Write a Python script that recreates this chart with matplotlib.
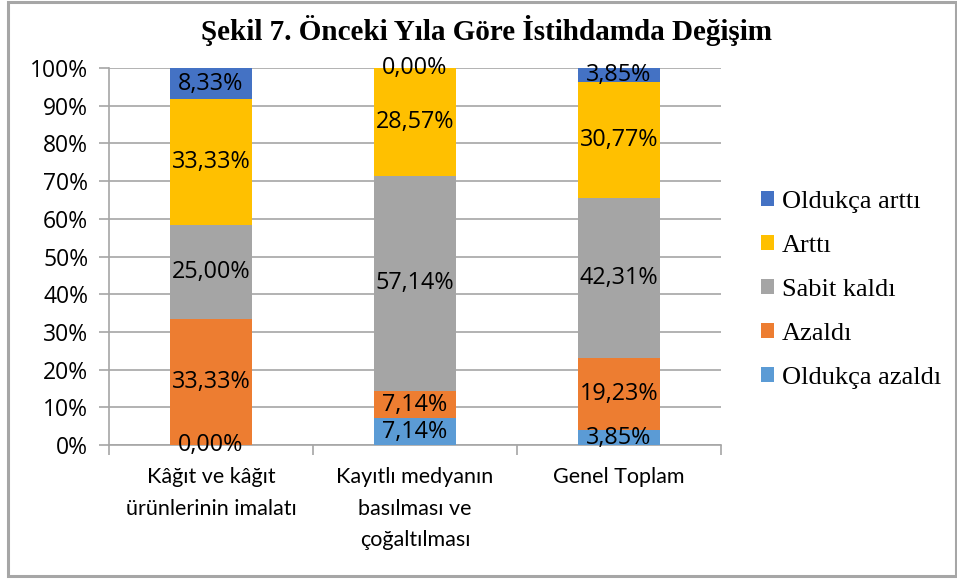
import matplotlib
matplotlib.use("Agg")
import matplotlib.pyplot as plt
from matplotlib.patches import Rectangle
import numpy as np

categories = ["Kâğıt ve kâğıt\nürünlerinin imalatı",
              "Kayıtlı medyanın\nbasılması ve\nçoğaltılması",
              "Genel Toplam"]
series_names = ["Oldukça azaldı", "Azaldı", "Sabit kaldı", "Arttı", "Oldukça arttı"]
oldukca_azaldi = [0.00, 7.14, 3.85]
azaldi = [33.33, 7.14, 19.23]
sabit_kaldi = [25.00, 57.14, 42.31]
artti = [33.33, 28.57, 30.77]
oldukca_artti = [8.33, 0.00, 3.85]
colors = ["#5B9BD5", "#ED7D31", "#A5A5A5", "#FFC000", "#4472C4"]
title = "Şekil 7. Önceki Yıla Göre İstihdamda Değişim"

W, H = 957, 579
fig = plt.figure(figsize=(W / 100, H / 100), dpi=100)
fig.patch.set_facecolor("white")

# outer chart frame
fig.patches.append(Rectangle((8 / W, 3 / H), 948 / W, 574 / H, transform=fig.transFigure,
                             fill=False, edgecolor="#A6A6A6", linewidth=2.2))

ax = fig.add_axes([109 / W, 1 - 445 / H, 612 / W, 377 / H])
x = np.arange(len(categories))
series = [oldukca_azaldi, azaldi, sabit_kaldi, artti, oldukca_artti]
bottom = np.zeros(len(categories))
label_font = "Open Sans"
cat_font = "Lato"
bars = []
for name, vals, col in zip(series_names, series, colors):
    v = np.array(vals)
    b = ax.bar(x, v, 0.4, bottom=bottom, color=col, label=name, zorder=3)
    bars.append(b)
    for xi, bi, vi in zip(x, bottom, v):
        ax.text(xi, bi + vi / 2, f"{vi:.2f}".replace(".", ",") + "%", ha="center",
                va="center", fontsize=16.8, family=label_font, color="black", zorder=4)
    bottom = bottom + v

ax.set_xlim(-0.5, len(categories) - 0.5)
ax.set_ylim(0, 100)
ax.set_yticks(np.arange(0, 101, 10))
ax.set_yticklabels([f"{t}%" for t in range(0, 101, 10)], family=label_font, fontsize=16.5)
ax.set_xticks(x)
ax.set_xticklabels(categories, family=cat_font, fontsize=15.5, linespacing=1.72)
ax.set_xticks(np.arange(-0.5, len(categories), 1.0), minor=True)
ax.tick_params(axis="x", which="major", length=0, pad=16)
ax.tick_params(axis="x", which="minor", length=7, color="#A6A6A6", width=1.2)
ax.tick_params(axis="y", length=7, color="#A6A6A6", width=1.2, pad=8)
ax.yaxis.grid(True, color="#A6A6A6", linewidth=1.2, zorder=0)
for s in ["top", "right"]:
    ax.spines[s].set_visible(False)
for s in ["left", "bottom"]:
    ax.spines[s].set_color("#A6A6A6")
    ax.spines[s].set_linewidth(1.2)

fig.text(487 / W, 1 - 30 / H, title, ha="center", va="center", fontsize=21,
         fontweight="bold", family="Liberation Serif")

handles = [b[0] for b in bars][::-1]
labels = series_names[::-1]
leg = fig.legend(handles, labels, loc="center left", bbox_to_anchor=(737 / W, 1 - 290 / H),
                 frameon=False, prop={"family": "Liberation Serif", "size": 19},
                 handlelength=0.5, handleheight=0.5, handletextpad=0.3, labelspacing=0.83)

fig.savefig("out.png", dpi=100)
